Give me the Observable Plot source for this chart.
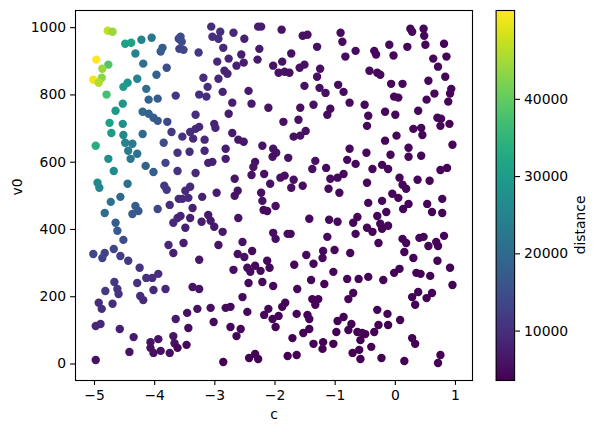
<!DOCTYPE html>
<html><head><meta charset="utf-8">
<script src="https://cdn.jsdelivr.net/npm/d3@7"></script>
<script src="https://cdn.jsdelivr.net/npm/@observablehq/plot@0.6"></script>
<style>
body{margin:0;background:#fff;}
#chart{position:relative;width:597px;height:432px;overflow:hidden;background:#fff;}
#chart svg{position:absolute;top:0;overflow:visible;}
</style></head><body><div id="chart"></div>
<script>
const c = [
-4.78,-4.70,-4.49,-4.39,-4.22,-4.05,-3.87,-3.90,-3.60,-3.59,
-4.97,-4.32,-4.77,-4.87,-4.19,-3.80,-5.02,-4.88,-4.93,-4.29,
-4.45,-4.52,-3.97,-4.80,-4.14,-4.10,-3.95,-3.65,-4.53,-4.65,
-4.20,-4.10,-4.02,-3.95,-3.79,-4.75,-4.53,-4.72,-4.52,-4.20,
-3.72,-4.98,-4.49,-4.37,-4.44,-4.29,-4.40,-4.77,-4.68,-4.15,
-4.02,-3.85,-3.82,-3.62,-3.62,-4.95,-4.92,-4.45,-3.84,-3.80,
-4.57,-4.73,-4.32,-4.27,-4.37,-3.95,-3.75,-3.60,-4.83,-3.62,
-3.69,-4.65,-4.62,-4.52,-3.77,-3.69,-5.02,-4.83,-4.87,-4.68,
-4.57,-4.44,-4.25,-3.94,-4.04,-4.14,-4.67,-4.29,-4.62,-4.60,
-4.82,-4.02,-3.82,-4.24,-4.19,-4.93,-4.88,-4.70,-3.65,-4.98,
-4.90,-4.58,-4.35,-4.07,-3.94,-3.69,-3.67,-4.07,-4.02,-3.90,
-3.75,-4.42,-4.98,-3.06,-2.91,-3.04,-2.94,-2.69,-2.51,-2.28,
-2.23,-3.57,-3.55,-3.52,-3.27,-2.86,-2.26,-2.96,-2.77,-2.56,
-2.52,-2.64,-2.29,-2.03,-2.84,-2.79,-2.94,-3.19,-3.12,-3.26,
-3.14,-2.87,-2.44,-2.71,-2.39,-2.11,-2.77,-3.32,-3.01,-2.99,
-3.26,-3.32,-3.41,-2.71,-3.54,-1.89,-1.54,-1.46,-0.91,-0.88,
-1.30,-0.66,-1.73,-0.83,-1.88,-1.94,-1.84,-1.76,-1.59,-1.51,
-1.25,-1.30,-0.43,-1.51,-1.26,-1.16,-0.95,-0.86,-0.76,-0.51,
-1.58,-1.36,-1.08,-1.13,-0.45,-0.47,-1.86,-1.61,-1.49,-1.69,
-1.58,0.25,0.28,0.47,0.48,-0.10,0.20,0.50,0.81,-0.35,
-0.32,-0.03,0.63,0.71,0.85,-0.30,-0.25,-0.07,0.12,0.55,
0.83,0.93,0.91,0.88,-0.02,0.05,0.65,0.52,0.38,-0.17,
0.00,0.70,0.76,0.75,0.90,0.30,0.43,0.45,0.02,-0.17,
0.95,0.22,0.22,0.43,-0.08,-0.48,-0.22,-0.12,-0.38,0.75,
0.86,0.07,0.37,0.57,-0.47,0.12,0.18,-0.05,0.05,-0.45,
-0.22,0.22,0.13,0.53,0.78,0.61,0.78,-0.30,-0.15,-0.25,
-0.22,-0.12,-0.47,-0.38,0.81,0.40,0.47,0.12,0.18,-0.28,
0.55,0.68,0.71,0.15,0.30,0.70,0.91,-0.45,-0.20,-0.02,
0.07,0.35,0.42,0.58,0.95,0.28,0.38,0.52,0.61,0.33,
-0.30,-0.13,0.08,-0.28,-0.35,-0.12,-0.50,0.28,0.33,-0.40,
-0.23,0.15,0.75,0.71,-2.03,-1.98,-1.78,-0.76,-1.33,-1.38,
-1.15,-0.80,-0.66,-1.84,-1.91,-1.69,-1.73,-1.54,-2.08,-1.08,
-0.96,-0.86,-1.11,-0.93,-1.99,-1.43,-1.10,-0.96,-0.63,-0.70,
-0.66,-2.03,-1.99,-1.79,-1.74,-1.13,-1.48,-1.20,-1.21,-1.01,
-0.75,-3.36,-3.17,-3.42,-3.17,-2.82,-2.61,-2.52,-2.21,-2.04,
-2.82,-3.11,-3.04,-2.33,-2.36,-3.32,-2.67,-2.39,-2.18,-3.41,
-3.49,-3.54,-3.44,-3.21,-2.97,-2.62,-2.67,-2.23,-2.21,-3.37,
-2.19,-2.13,-3.11,-3.07,-3.57,-3.41,-2.61,-3.22,-3.01,-2.87,
-3.49,-2.54,-2.94,-3.52,-2.62,-2.51,-2.38,-3.26,-2.69,-2.46,
-2.33,-2.24,-2.41,-2.13,-2.09,-3.37,-3.26,-2.44,-2.21,-2.03,
-2.54,-3.07,-2.82,-2.74,-3.29,-3.46,-2.46,-2.11,-2.18,-2.04,
-3.02,-3.44,-2.74,-2.57,-2.64,-3.47,-3.62,-2.33,-2.43,-2.28,
-2.86,-1.36,-1.68,-1.03,-0.80,-0.61,-1.40,-1.63,-1.18,-0.70,
-0.78,-1.38,-1.28,-1.33,-1.83,-1.88,-1.64,-1.46,-1.43,-1.94,
-1.99,-0.86,-0.96,-0.73,-0.63,-0.55,-0.58,-0.98,-0.78,-1.43,
-1.53,-1.71,-1.20,-1.21,-1.36,-1.03,-0.71,-0.60,-0.58,-1.79,
-1.64
];
const v0 = [
991,988,952,955,964,970,940,929,967,937,
905,923,890,878,893,881,845,851,836,848,
836,824,860,801,818,786,789,798,774,753,
750,744,732,723,720,717,714,687,681,684,
690,649,658,655,634,625,610,610,574,589,
571,658,598,628,574,539,524,536,530,518,
497,482,470,455,446,461,473,491,449,434,
420,420,396,369,354,330,327,330,315,342,
321,307,286,268,256,256,244,241,223,208,
217,220,223,202,190,182,164,179,134,113,
119,104,80,65,74,83,62,48,33,39,
33,36,12,1003,988,973,967,985,967,1003,
1003,973,958,934,926,940,937,899,908,920,
896,887,905,887,872,863,848,851,824,801,
795,809,812,777,774,762,744,741,714,702,
705,699,690,687,676,994,976,979,985,958,
943,931,923,914,899,866,869,866,881,890,
878,854,872,827,821,806,830,809,777,771,
762,771,759,741,738,708,720,726,693,676,
679,997,988,997,976,949,943,949,952,931,
920,917,908,884,914,866,860,833,833,842,
854,818,804,780,795,792,804,786,753,750,
741,732,729,708,714,699,702,681,679,664,
652,643,616,619,622,628,592,580,580,577,
583,554,548,545,539,533,521,506,494,479,
485,476,461,476,491,452,449,440,452,417,
402,411,405,393,381,375,378,372,360,360,
351,363,351,333,315,307,286,259,250,271,
283,271,268,262,235,199,214,196,211,176,
161,149,131,116,95,116,89,77,60,51,
18,9,27,3,640,628,613,640,604,580,
583,607,595,560,554,548,524,530,536,551,
554,565,521,509,470,432,429,423,437,420,
387,390,372,387,387,378,324,336,315,339,
330,670,667,631,634,640,667,661,649,616,
610,598,601,601,586,568,551,562,565,527,
515,491,494,497,509,515,500,509,485,464,
458,455,443,426,440,434,434,423,408,393,
405,363,354,360,327,318,336,310,280,286,
292,277,274,307,286,229,223,241,244,232,
199,167,167,170,164,152,155,164,146,134,
125,107,110,104,83,57,48,30,18,15,
6,298,295,274,253,253,250,223,238,211,
193,193,193,176,182,170,149,146,134,143,
110,140,128,119,95,92,71,95,101,104,
92,77,65,45,60,60,33,42,15,24,
27
];
const distance = [
47100,44200,31000,31000,24600,22600,17700,17700,13800,12800,
51500,24600,38300,44200,21200,14800,50500,43200,45700,24600,
28500,29500,18700,37300,21200,18700,17700,11400,28500,29500,
19700,18700,17700,16700,13800,31000,27500,29500,26000,19700,
11400,33400,24600,23600,23600,21200,22600,27500,26500,18700,
17700,14800,13800,10400,10400,26000,25500,21200,11400,11400,
19700,21200,17700,16700,17200,13800,9900,8900,20700,8900,
8900,17700,17200,14800,8900,7900,13800,12800,12800,13800,
12300,11400,10900,9900,9900,10400,11400,10400,10900,10400,
11400,9400,8900,9900,9400,9900,9900,9900,6900,8900,
8900,7900,6900,6000,6000,6000,6000,5500,5500,5500,
5500,6000,5500,9900,9900,9900,9900,8900,7900,7400,
7400,14800,14800,13800,11400,8900,6900,8900,8400,7400,
7400,7900,6900,6000,8400,8400,8900,9900,9900,9900,
9900,8400,6900,7400,6900,6000,7400,9900,8400,8400,
8900,8900,9900,6900,10400,6000,5500,5500,5000,5000,
5500,5000,5500,5000,6000,6000,6000,5500,5500,5500,
5500,5500,4700,5500,5500,5500,5000,5000,5000,4700,
5500,5500,5000,5000,4700,4700,5500,5500,5500,5500,
5500,4400,4400,4300,4300,4500,4400,4300,4200,4600,
4600,4500,4300,4200,4200,4600,4500,4500,4400,4300,
4200,4200,4200,4200,4400,4400,4200,4300,4300,4400,
4400,4200,4200,4200,4100,4300,4300,4200,4300,4400,
4100,4200,4200,4200,4300,4500,4300,4300,4400,4100,
4100,4200,4200,4100,4400,4200,4200,4200,4200,4300,
4200,4100,4100,4100,4000,4000,4000,4200,4200,4200,
4100,4100,4200,4200,4000,4000,4000,4000,4000,4100,
4000,4000,3900,4000,3900,3900,3900,4000,4000,3900,
3900,3900,3900,3900,3800,3800,3800,3800,3800,3800,
3800,3800,3800,3750,3750,3750,3750,3700,3700,3700,
3650,3650,3650,3600,6000,6000,5500,4800,5300,5300,
5100,4800,4700,5500,5500,5300,5300,5200,5700,5000,
4900,4800,4900,4800,5300,4900,4800,4700,4500,4500,
4500,5200,5200,5000,5000,4700,4700,4600,4600,4500,
4400,9400,8900,9900,8900,7400,6400,6400,6000,5500,
7400,7900,7900,6000,6000,8900,6400,6000,5500,8900,
8900,8900,8900,7900,6900,6000,6000,5500,5500,7900,
5000,5000,6900,6900,8400,7900,6000,7400,6500,6500,
7900,5500,6000,7400,5500,5500,5000,6500,5300,5100,
4900,4800,4900,4800,4700,6000,5900,4800,4700,4600,
4700,5300,4900,4800,5400,5500,4600,4400,4400,4300,
4900,5000,4500,4400,4300,4400,4400,3900,3800,3800,
3700,4300,4500,4200,4100,4000,4200,4300,4100,4000,
4000,4100,4100,4000,4200,4200,4100,4000,4000,4100,
4000,3900,3900,3800,3800,3800,3700,3800,3800,3900,
3900,3800,3800,3700,3700,3700,3650,3650,3600,3650,
3650
];
const xTicks = [-5, -4, -3, -2, -1, 0, 1];
const yTicks = [0, 200, 400, 600, 800, 1000];
const cbTicks = [10000, 20000, 30000, 40000];
const xLabel = "c", yLabel = "v0", cbLabel = "distance";

const rows = c.map((d, i) => ({c: d, v0: v0[i], distance: distance[i]}));
const dMin = d3.min(distance), dMax = d3.max(distance);
const style = {fontFamily: "DejaVu Sans", fontSize: "13.9px", color: "#000", background: "transparent", overflow: "visible"};
const colorOpts = {type: "linear", scheme: "viridis", domain: [dMin, dMax]};
const fmt = d3.format("d");

const main = Plot.plot({
  width: 490, height: 432,
  marginLeft: 75, marginRight: 18, marginTop: 10, marginBottom: 52,
  style,
  x: {domain: [-5.316, 1.283]},
  y: {domain: [-49, 1051]},
  color: colorOpts,
  marks: [
    Plot.dot(rows, {x: "c", y: "v0", r: 4.2, fill: "distance", stroke: null}),
    Plot.frame({stroke: "#000", strokeWidth: 1.1}),
    Plot.axisX({ticks: xTicks, tickSize: 4.9, tickPadding: 4.5, strokeWidth: 1.1, tickFormat: fmt, label: null}),
    Plot.axisY({ticks: yTicks, tickSize: 4.9, tickPadding: 4.5, strokeWidth: 1.1, tickFormat: fmt, label: null}),
    Plot.text([xLabel], {frameAnchor: "bottom", dy: 34, lineAnchor: "middle", fontSize: 13.9, fill: "#000"}),
    Plot.text([yLabel], {frameAnchor: "left", dx: -58, rotate: -90, lineAnchor: "middle", fontSize: 13.9, fill: "#000"})
  ]
});
main.style.left = "0px";

const steps = d3.range(256).map(i => dMin + (dMax - dMin) * i / 256);
const stepH = (dMax - dMin) / 256;
const bar = Plot.plot({
  width: 127, height: 432,
  marginLeft: 25.6, marginRight: 82.9, marginTop: 10, marginBottom: 52,
  style,
  x: {domain: [0, 1], axis: null},
  y: {domain: [dMin, dMax]},
  color: colorOpts,
  marks: [
    Plot.rect(steps, {x1: 0, x2: 1, y1: d => d, y2: d => Math.min(dMax, d + stepH * 1.6), fill: d => d, inset: 0, shapeRendering: "crispEdges"}),
    Plot.frame({stroke: "#000", strokeWidth: 1.1}),
    Plot.axisY({anchor: "right", ticks: cbTicks, tickSize: 4.9, tickPadding: 4.5, strokeWidth: 1.1, tickFormat: fmt, label: null}),
    Plot.text([cbLabel], {frameAnchor: "right", dx: 66, rotate: -90, lineAnchor: "middle", fontSize: 13.9, fill: "#000"})
  ]
});
bar.style.left = "470px";

const host = document.getElementById("chart");
host.appendChild(main);
host.appendChild(bar);
</script></body></html>
